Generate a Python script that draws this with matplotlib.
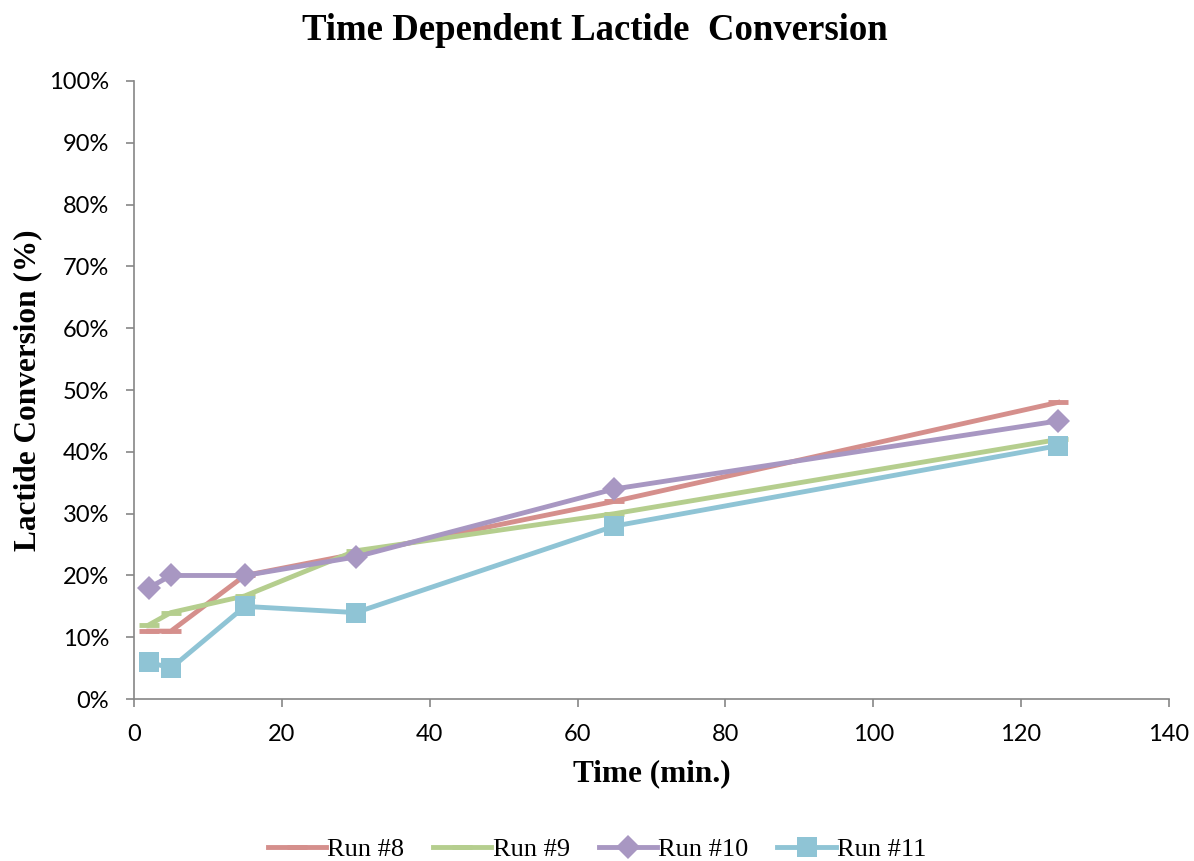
import matplotlib
matplotlib.use("Agg")
import matplotlib.pyplot as plt
from matplotlib.ticker import PercentFormatter

# Data
time = [2, 5, 15, 30, 65, 125]
run8 = [11, 11, 20, 23.5, 32, 48]
run9 = [12, 14, 16.7, 24, 30, 42]
run10 = [18, 20, 20, 23, 34, 45]
run11 = [6, 5, 15, 14, 28, 41]

labels = ["Run #8", "Run #9", "Run #10", "Run #11"]
colors = ["#D58F8C", "#B5CE8E", "#A897C2", "#8FC4D5"]

fig = plt.figure(figsize=(11.94, 8.61), dpi=100)
ax = fig.add_axes([0.1122, 0.188, 0.8668, 0.718])

ax.plot(time, run8, color=colors[0], lw=3.5, marker="_", ms=14, mew=3.5, label=labels[0])
ax.plot(time, run9, color=colors[1], lw=3.5, marker="_", ms=14, mew=3.5, label=labels[1])
ax.plot(time, run10, color=colors[2], lw=3.5, marker="D", ms=12, mew=0, label=labels[2])
ax.plot(time, run11, color=colors[3], lw=3.5, marker="s", ms=15, mew=0, label=labels[3])

ax.set_xlim(0, 140)
ax.set_ylim(0, 100)
ax.set_xticks(range(0, 141, 20))
ax.set_yticks(range(0, 101, 10))
ax.yaxis.set_major_formatter(PercentFormatter(decimals=0))

for side in ["top", "right"]:
    ax.spines[side].set_visible(False)
for side in ["left", "bottom"]:
    ax.spines[side].set_color("#868686")
    ax.spines[side].set_linewidth(1.2)
ax.tick_params(direction="out", length=6, width=1.2, color="#868686",
               labelsize=17, labelcolor="black", pad=12)
for t in ax.get_xticklabels() + ax.get_yticklabels():
    t.set_family("Lato")

fig.suptitle("Time Dependent Lactide  Conversion", family="Liberation Serif",
             fontsize=26.5, fontweight="bold", x=0.498, y=0.985)
ax.set_xlabel("Time (min.)", family="Liberation Serif", fontsize=22.5,
              fontweight="bold", labelpad=10)
ax.set_ylabel("Lactide Conversion (%)", family="Liberation Serif", fontsize=22.5,
              fontweight="bold", labelpad=5)

fig.legend(loc="lower center", bbox_to_anchor=(0.5, -0.028), ncol=4, frameon=False,
           prop={"family": "Liberation Serif", "size": 19}, handlelength=2.2,
           handletextpad=0.05, columnspacing=1.1)

fig.savefig("out.png", dpi=100)
